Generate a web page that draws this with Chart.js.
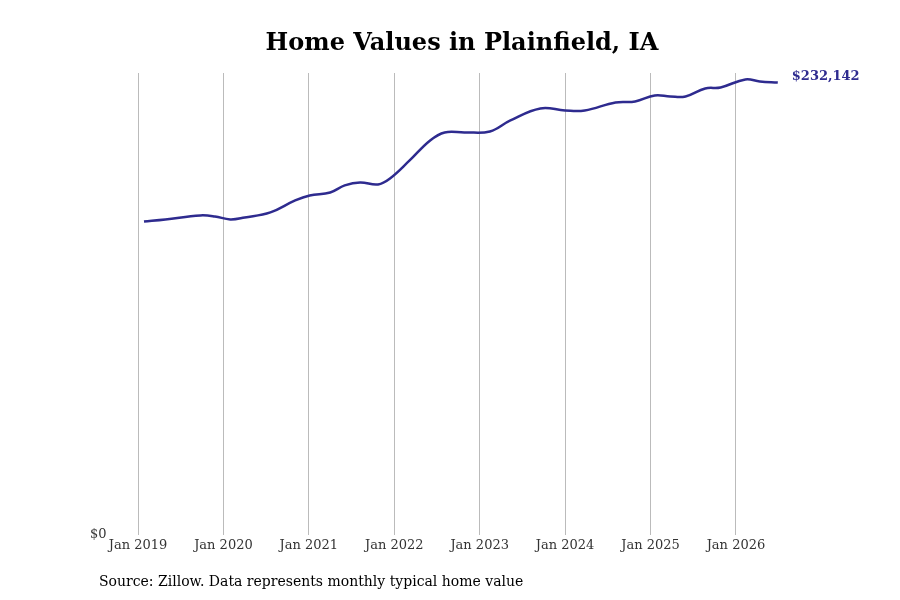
<!DOCTYPE html>
<html>
<head>
<meta charset="UTF-8">
<title>Home Values in Plainfield, IA</title>
<script src="https://cdn.jsdelivr.net/npm/chart.js"></script>
<style>
  body { margin: 0; background: #fff; }
  #wrap { width: 900px; height: 600px; }
</style>
</head>
<body>
<div id="wrap"><canvas id="c" width="900" height="600"></canvas></div>
<script>
// decimal years
const years = [2019.07, 2019.32, 2019.73, 2019.90, 2020.08, 2020.25, 2020.55, 2020.84, 2021.01, 2021.25,
  2021.42, 2021.60, 2021.81, 2021.95, 2022.18, 2022.42, 2022.59, 2022.83, 2023.12, 2023.36,
  2023.71, 2024.00, 2024.23, 2024.59, 2024.82, 2025.05, 2025.23, 2025.41, 2025.64, 2025.82,
  2026.11, 2026.28, 2026.49];
const values = [160900, 161950, 164000, 163490, 161950, 162950, 165540, 171690, 174250, 175790,
  179380, 180910, 179890, 182960, 192190, 202440, 206540, 206540, 207050, 212690,
  218840, 217810, 217810, 221910, 222430, 225500, 224990, 224990, 229090, 229600,
  233700, 232680, 232142];
const tickYears = [2019, 2020, 2021, 2022, 2023, 2024, 2025, 2026];
const lastLabel = '$232,142';

const lineColor = '#2e2b8f';

const textPlugin = {
  id: 'texts',
  afterDraw(chart) {
    const ctx = chart.ctx;
    ctx.save();
    ctx.fillStyle = '#000';
    ctx.font = 'bold 24px "DejaVu Serif"';
    ctx.textAlign = 'center';
    ctx.textBaseline = 'middle';
    ctx.fillText('Home Values in Plainfield, IA', 462, 44);
    ctx.font = '14px "DejaVu Serif"';
    ctx.textAlign = 'left';
    ctx.fillText('Source: Zillow. Data represents monthly typical home value', 99, 582);
    ctx.fillStyle = '#333';
    ctx.font = '13px "DejaVu Serif"';
    ctx.fillText('$0', 90, 535);
    const x = chart.scales.x.getPixelForValue(years[years.length - 1]);
    const y = chart.scales.y.getPixelForValue(values[values.length - 1]);
    ctx.fillStyle = lineColor;
    ctx.font = 'bold 13px "DejaVu Serif"';
    ctx.fillText(lastLabel, x + 14, y - 6);
    ctx.restore();
  }
};

new Chart(document.getElementById('c'), {
  type: 'line',
  data: {
    datasets: [{
      data: years.map((y, i) => ({ x: y, y: values[i] })),
      borderColor: lineColor,
      borderWidth: 2.5,
      pointRadius: 0,
      tension: 0.4,
      fill: false
    }]
  },
  options: {
    responsive: false,
    animation: false,
    layout: { padding: { left: 138, right: 100, top: 73, bottom: 45 } },
    plugins: { legend: { display: false }, tooltip: { enabled: false } },
    scales: {
      x: {
        type: 'linear',
        min: 2019,
        max: 2026.75,
        afterBuildTicks: s => { s.ticks = tickYears.map(v => ({ value: v })); },
        ticks: {
          callback: v => 'Jan ' + v,
          color: '#333',
          font: { family: 'DejaVu Serif', size: 13 },
          maxRotation: 0,
          padding: 2
        },
        grid: { color: '#bbb', drawTicks: false },
        border: { display: false }
      },
      y: {
        display: false,
        min: 0,
        max: 237000
      }
    }
  },
  plugins: [textPlugin]
});
</script>
</body>
</html>
